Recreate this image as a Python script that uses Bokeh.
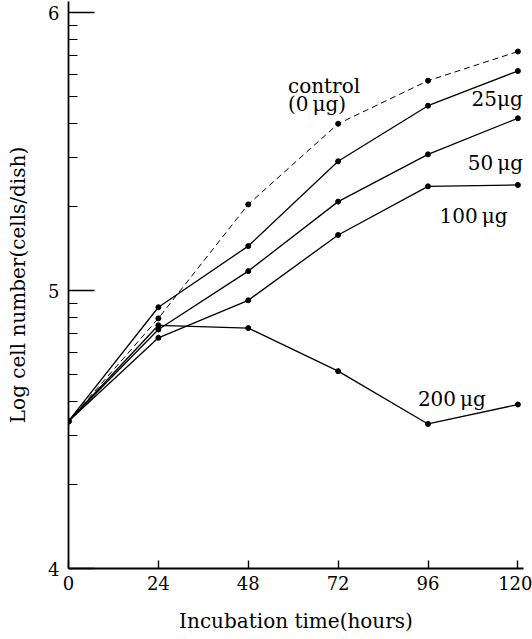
import math
from bokeh.plotting import figure
from bokeh.models import FixedTicker, ColumnDataSource
from bokeh.core.properties import value
from bokeh.embed import file_html
from bokeh.resources import INLINE

hours = [0, 24, 48, 72, 96, 120]
control = [4.53, 4.90, 5.31, 5.60, 5.755, 5.86]
dose25 = [4.53, 4.94, 5.16, 5.465, 5.665, 5.79]
dose50 = [4.53, 4.86, 5.07, 5.32, 5.49, 5.62]
dose100 = [4.53, 4.83, 4.965, 5.20, 5.375, 5.38]
dose200 = [4.53, 4.875, 4.865, 4.71, 4.52, 4.59]

x_ticks = [0, 24, 48, 72, 96, 120]
y_major = [4, 5, 6]
y_minor = [d + math.log10(k) for d in (4, 5) for k in range(2, 10)]

SERIF = "DejaVu Serif"

p = figure(width=532, height=638, x_range=(0, 121.5), y_range=(4, 6.04),
           output_backend="svg", toolbar_location=None,
           min_border_left=68, min_border_right=9, min_border_top=1,
           min_border_bottom=70)
p.outline_line_color = None
p.grid.visible = False
p.background_fill_color = "white"
p.border_fill_color = "white"

# axes
p.xaxis.ticker = FixedTicker(ticks=x_ticks, minor_ticks=[])
p.yaxis.ticker = FixedTicker(ticks=y_major, minor_ticks=y_minor)
for ax in (p.xaxis[0], p.yaxis[0]):
    ax.axis_line_color = "black"
    ax.axis_line_width = 1.8
    ax.major_tick_line_color = "black"
    ax.major_tick_line_width = 1.4
    ax.minor_tick_line_color = "black"
    ax.major_tick_out = 0
    ax.minor_tick_out = 0
    ax.major_label_text_font = SERIF
    ax.major_label_text_font_size = "18px"
    ax.major_label_text_color = "black"
    ax.axis_label_text_font = SERIF
    ax.axis_label_text_font_size = "20px"
    ax.axis_label_text_font_style = "normal"
    ax.axis_label_text_color = "black"

p.xaxis.major_tick_in = 8
p.xaxis.minor_tick_in = 0
p.xaxis.major_label_standoff = 7
p.xaxis.axis_label_standoff = 16
p.xaxis.axis_label = "Incubation time(hours)"

p.yaxis.major_tick_in = 26
p.yaxis.minor_tick_in = 9
p.yaxis.minor_tick_line_width = 1
p.yaxis.major_label_standoff = 9
p.yaxis.axis_label_standoff = 15
p.yaxis.axis_label = "Log cell number(cells/dish)"

# series
p.line(hours, control, line_color="black", line_width=1, line_dash="6 4")
for ys in (dose25, dose50, dose100, dose200):
    p.line(hours, ys, line_color="black", line_width=1.3)
for ys in (control, dose25, dose50, dose100, dose200):
    p.scatter(hours[1:], ys[1:], size=5, color="black")
p.scatter([hours[0]], [control[0]], size=6, color="black")

# labels
lab_text = ["control", "(0\u2009\u03bcg)", "25\u03bcg", "50\u2009\u03bcg",
            "100\u2009\u03bcg", "200\u2009\u03bcg"]
lab_x = [58.6, 58.6, 107.6, 106.6, 99.1, 93.3]
lab_y = [5.737, 5.673, 5.69, 5.46, 5.27, 4.61]
src = ColumnDataSource(dict(x=lab_x, y=lab_y, t=lab_text))
p.text(x="x", y="y", text="t", source=src, text_font=value(SERIF),
       text_font_size="20px", text_color="black",
       text_baseline="alphabetic", text_align="left")

open("out.html", "w").write(file_html(p, INLINE))
